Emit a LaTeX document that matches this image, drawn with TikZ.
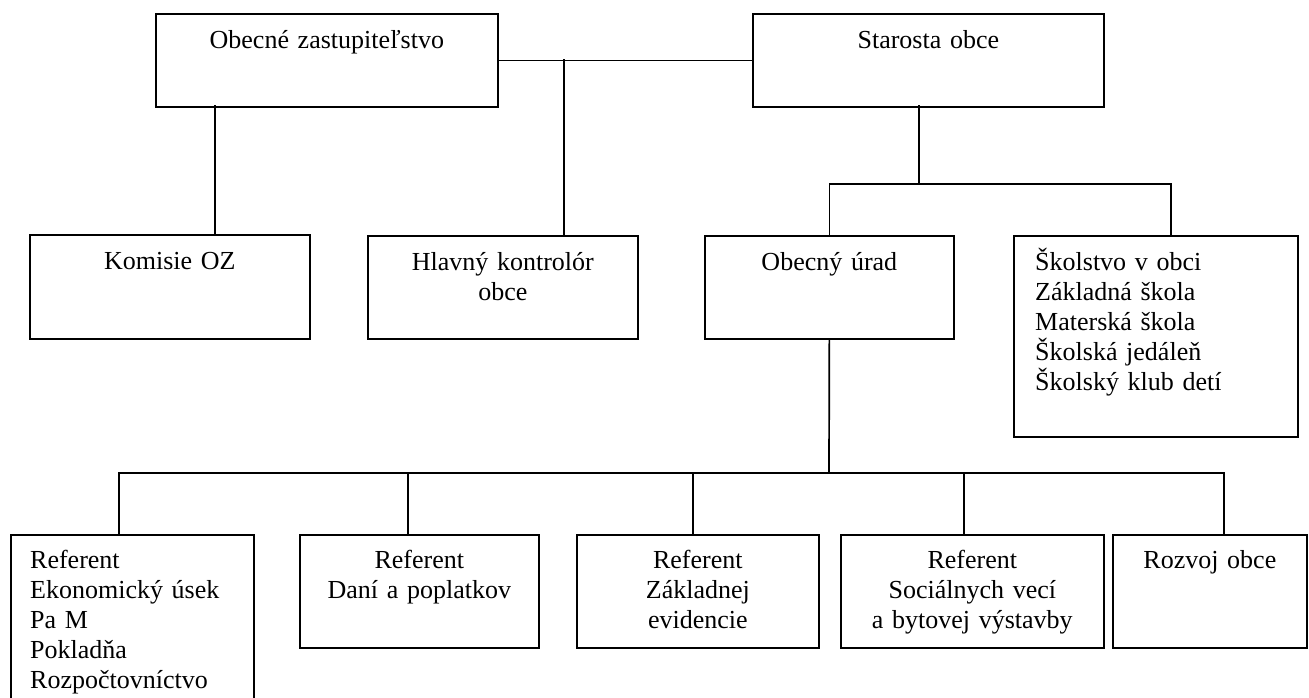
\documentclass[tikz,border=0pt]{standalone}
\usepackage{fontspec}
\setmainfont{Liberation Serif}
\tikzset{
  unit/.style={draw, line width=1.7pt, inner sep=0pt, anchor=north west},
  title/.style={anchor=base, text width=250pt, align=center, inner sep=0pt,
                font=\fontsize{26}{30}\selectfont},
  listing/.style={anchor=base west, text width=270pt, align=left, inner sep=0pt,
                  font=\fontsize{26}{30}\selectfont},
  wire/.style={line width=1.7pt, line cap=rect},
}
\begin{document}
\begin{tikzpicture}[x=1pt,y=-1pt]
  \useasboundingbox (0,0) rectangle (1309,697);
  \clip (0,0) rectangle (1309,697);
  % top level
  \node[unit, minimum width=342pt, minimum height=93pt] (oz) at (155,13) {};
  \node[unit, minimum width=351pt, minimum height=93pt] (st) at (752,13) {};
  % second level
  \node[unit, minimum width=280pt, minimum height=104pt] (kom) at (29,234) {};
  \node[unit, minimum width=270pt, minimum height=103pt] (hk) at (367,235) {};
  \node[unit, minimum width=249pt, minimum height=103pt] (ou) at (704,235) {};
  \node[unit, minimum width=284pt, minimum height=201pt] (sk) at (1013,235) {};
  % referents (r1 runs off the page)
  \node[unit, minimum width=243pt, minimum height=180pt] (r1) at (10,534) {};
  \node[unit, minimum width=239pt, minimum height=113pt] (r2) at (299,534) {};
  \node[unit, minimum width=242pt, minimum height=113pt] (r3) at (576,534) {};
  \node[unit, minimum width=263pt, minimum height=113pt] (r4) at (840,534) {};
  \node[unit, minimum width=194pt, minimum height=113pt] (r5) at (1112,534) {};
  % texts
  \node[title] (oz-t) at ([yshift=-35pt]oz.north) {Obecné zastupiteľstvo};
  \node[title] (st-t) at ([yshift=-35pt]st.north) {Starosta obce};
  \node[title] (kom-t) at ([yshift=-35pt]kom.north) {Komisie OZ};
  \node[title] (hk-t) at ([yshift=-35pt]hk.north) {Hlavný kontrolór\\obce};
  \node[title] (ou-t) at ([yshift=-35pt]ou.north) {Obecný úrad};
  \node[listing] (sk-t) at ([xshift=22pt,yshift=-35pt]sk.north west)
       {Školstvo v obci\\Základná škola\\Materská škola\\Školská jedáleň\\Školský klub detí};
  \node[listing] (r1-t) at ([xshift=20pt,yshift=-34pt]r1.north west)
       {Referent\\Ekonomický úsek\\Pa M\\Pokladňa\\Rozpočtovníctvo};
  \node[title] (r2-t) at ([yshift=-34pt]r2.north) {Referent\\Daní a poplatkov};
  \node[title] (r3-t) at ([yshift=-34pt]r3.north) {Referent\\Základnej\\evidencie};
  \node[title] (r4-t) at ([yshift=-34pt]r4.north) {Referent\\Sociálnych vecí\\a bytovej výstavby};
  \node[title] (r5-t) at ([yshift=-34pt]r5.north) {Rozvoj obce};
  % connectors
  \coordinate (j-hk) at (564,60);
  \coordinate (j-kom) at (215,106);
  \coordinate (j-st) at (919,106);
  \coordinate (fork) at (919,184);
  \coordinate (bus) at (829,473);
  \draw[wire] (oz.east) -- (st.west);
  \draw[wire] (j-hk) -- (j-hk |- hk.north);
  \draw[wire] (j-kom) -- (j-kom |- kom.north);
  \draw[wire] (j-st) -- (fork);
  \draw[wire] (ou.north) |- (fork) -| ([xshift=15pt]sk.north);
  \draw[wire] (ou.south) -- (bus);
  \foreach \b/\x [count=\i] in {r1/119, r2/408, r3/693, r4/964, r5/1224} {
    \coordinate (d\i) at (\x,473);
    \draw[wire] (d\i) -- (d\i |- \b.north);
  }
  \draw[wire] (d1) -- (d5);
\end{tikzpicture}
\end{document}
